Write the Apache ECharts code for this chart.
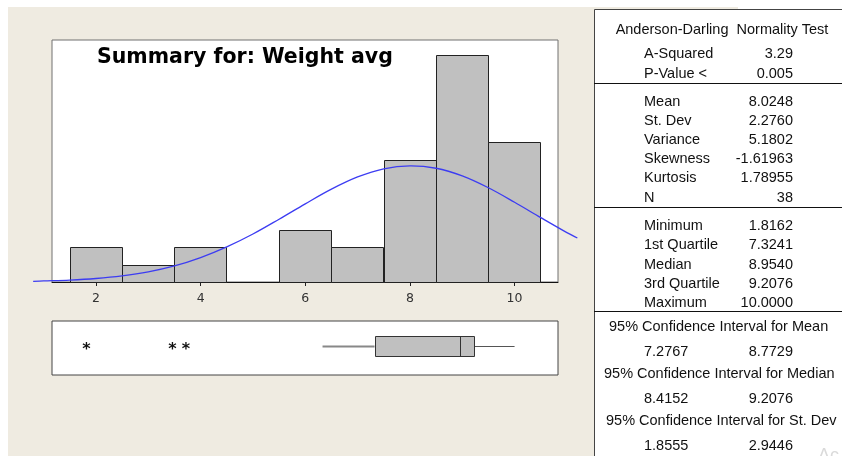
<!DOCTYPE html>
<html>
<head>
<meta charset="utf-8">
<script src="https://cdn.jsdelivr.net/npm/echarts@6/dist/echarts.min.js"></script>
<style>
  html, body { margin: 0; padding: 0; background: #ffffff; }
  #chart { width: 842px; height: 456px; }
</style>
</head>
<body>
<div id="chart"></div>
<script>
// Histogram bins (lower edge) and counts
const binStarts = [1.5, 2.5, 3.5, 4.5, 5.5, 6.5, 7.5, 8.5, 9.5]
const binCounts = [2, 1, 2, 0, 3, 2, 7, 13, 8]

// Fitted normal curve
const curveX = [0.8, 1, 1.5, 2, 2.5, 3, 3.5, 4, 4.5, 5, 5.5, 6, 6.5, 7, 7.5, 8, 8.5, 9, 9.5, 10, 10.5, 11, 11.2]
const curveY = [0.04, 0.06, 0.11, 0.2, 0.35, 0.58, 0.92, 1.4, 2.01, 2.75, 3.6, 4.48, 5.32, 6.02, 6.49, 6.66, 6.52, 6.08, 5.4, 4.57, 3.69, 2.83, 2.52]

// Boxplot: lower whisker, Q1, median, Q3, upper whisker; outliers
const boxStats = [6.33, 7.3241, 8.954, 9.2076, 10.0]
const outliers = [1.8162, 3.46, 3.72]

const xTicks = [2, 4, 6, 8, 10]

// Summary table
const titleText = 'Summary for: Weight avg'
const adLabels = ['A-Squared', 'P-Value <']
const adValues = ['3.29', '0.005']
const descLabels = ['Mean', 'St. Dev', 'Variance', 'Skewness', 'Kurtosis', 'N']
const descValues = ['8.0248', '2.2760', '5.1802', '-1.61963', '1.78955', '38']
const quartLabels = ['Minimum', '1st Quartile', 'Median', '3rd Quartile', 'Maximum']
const quartValues = ['1.8162', '7.3241', '8.9540', '9.2076', '10.0000']
const ciTitles = ['95% Confidence Interval for Mean', '95% Confidence Interval for Median', '95% Confidence Interval for St. Dev']
const ciLow = ['7.2767', '8.4152', '1.8555']
const ciHigh = ['8.7729', '9.2076', '2.9446']

const chart = echarts.init(document.getElementById('chart'))

const tableFont = 'Liberation Sans'
const fs = 14.5

function txt(text, x, y, align) {
  return {
    type: 'text',
    x: x,
    y: y,
    z: 5,
    style: {
      text: text,
      fill: '#111',
      fontSize: fs,
      fontFamily: tableFont,
      align: align,
      textAlign: align,
      verticalAlign: 'middle',
      textVerticalAlign: 'middle'
    }
  }
}

const graphics = [
  // beige backdrop
  { type: 'rect', z: -10, shape: { x: 8, y: 7, width: 730, height: 449 }, style: { fill: '#efebe1' } },
  // table panel
  { type: 'rect', z: -9, shape: { x: 594.5, y: 9.5, width: 260, height: 460 }, style: { fill: '#ffffff', stroke: '#444', lineWidth: 1 } },
  { type: 'line', z: -8, shape: { x1: 594, y1: 83.5, x2: 842, y2: 83.5 }, style: { stroke: '#111', lineWidth: 1 } },
  { type: 'line', z: -8, shape: { x1: 594, y1: 207.5, x2: 842, y2: 207.5 }, style: { stroke: '#111', lineWidth: 1 } },
  { type: 'line', z: -8, shape: { x1: 594, y1: 311.5, x2: 842, y2: 311.5 }, style: { stroke: '#111', lineWidth: 1 } },
  {
    type: 'text', x: 97, y: 58, z: 5,
    style: {
      text: titleText, fill: '#000', fontSize: 20.5, fontWeight: 'bold', fontFamily: 'DejaVu Sans',
      align: 'left', textAlign: 'left', verticalAlign: 'middle', textVerticalAlign: 'middle'
    }
  },
  txt('Anderson-Darling  Normality Test', 722, 30, 'center')
]

adLabels.forEach((l, i) => {
  graphics.push(txt(l, 644, 54 + i * 20, 'left'))
  graphics.push(txt(adValues[i], 793, 54 + i * 20, 'right'))
})
descLabels.forEach((l, i) => {
  graphics.push(txt(l, 644, 102 + i * 19.1, 'left'))
  graphics.push(txt(descValues[i], 793, 102 + i * 19.1, 'right'))
})
quartLabels.forEach((l, i) => {
  graphics.push(txt(l, 644, 226 + i * 19.3, 'left'))
  graphics.push(txt(quartValues[i], 793, 226 + i * 19.3, 'right'))
})
ciTitles.forEach((t, i) => {
  const y0 = 327 + i * 47.2
  graphics.push(txt(t, [609, 604, 606][i], y0, 'left'))
  graphics.push(txt(ciLow[i], 644, y0 + 24.5, 'left'))
  graphics.push(txt(ciHigh[i], 793, y0 + 24.5, 'right'))
})
graphics.push({
  type: 'text', x: 818, y: 456, z: 5,
  style: { text: 'Ac', fill: '#dadada', fontSize: 18, fontFamily: tableFont, align: 'left', verticalAlign: 'middle' }
})

const histData = binStarts
  .map((s, i) => [s, s + 1, binCounts[i]])
  .filter(d => d[2] > 0)

const option = {
  animation: false,
  backgroundColor: 'transparent',
  graphic: graphics,
  grid: [
    { left: 52, top: 40, width: 506, height: 242, show: true, backgroundColor: '#ffffff', borderColor: '#707070', borderWidth: 1 },
    { left: 52, top: 321, width: 506, height: 54, show: true, backgroundColor: '#ffffff', borderColor: '#444', borderWidth: 1 }
  ],
  xAxis: [
    {
      gridIndex: 0, type: 'value', min: 1.16, max: 10.83,
      splitLine: { show: false },
      axisLine: { show: true, onZero: false, lineStyle: { color: '#111', width: 1 } },
      axisTick: { show: true, length: 4, customValues: xTicks, lineStyle: { color: '#222' } },
      axisLabel: { show: true, customValues: xTicks, color: '#333', fontSize: 12.5, fontFamily: 'DejaVu Sans', margin: 10 }
    },
    {
      gridIndex: 1, type: 'value', min: 1.16, max: 10.83,
      show: false, splitLine: { show: false }
    }
  ],
  yAxis: [
    { gridIndex: 0, type: 'value', min: 0, max: 13.87, show: false, splitLine: { show: false } },
    { gridIndex: 1, type: 'value', min: 0, max: 1, show: false, splitLine: { show: false } }
  ],
  series: [
    {
      type: 'custom',
      xAxisIndex: 0, yAxisIndex: 0,
      data: histData,
      encode: { x: [0, 1], y: 2 },
      renderItem: function (params, api) {
        const p0 = api.coord([api.value(0), api.value(2)])
        const p1 = api.coord([api.value(1), 0])
        return {
          type: 'rect',
          shape: { x: Math.round(p0[0]) + 0.5, y: Math.round(p0[1]) + 0.5, width: Math.round(p1[0] - p0[0]), height: Math.round(p1[1] - p0[1]) },
          style: { fill: '#c0c0c0', stroke: '#222', lineWidth: 1 }
        }
      },
      z: 2
    },
    {
      // normal curve, allowed to run past the frame like the original
      type: 'custom',
      xAxisIndex: 0, yAxisIndex: 0,
      clip: false,
      data: curveX.map((x, i) => [x, curveY[i]]),
      renderItem: function (params, api) {
        if (params.dataIndex !== 0) return null
        const pts = curveX.map((x, i) => api.coord([x, curveY[i]]))
        return {
          type: 'polyline',
          shape: { points: pts, smooth: 0.35 },
          style: { stroke: '#3c3cf2', lineWidth: 1.3, fill: null }
        }
      },
      z: 3
    },
    {
      type: 'custom',
      xAxisIndex: 1, yAxisIndex: 1,
      data: [boxStats],
      renderItem: function (params, api) {
        const lo = api.coord([api.value(0), 0.5])
        const q1 = api.coord([api.value(1), 0.5])
        const med = api.coord([api.value(2), 0.5])
        const q3 = api.coord([api.value(3), 0.5])
        const hi = api.coord([api.value(4), 0.5])
        const cy = Math.round(lo[1]) - 1.5
        const h = 10
        return {
          type: 'group',
          children: [
            { type: 'line', shape: { x1: lo[0], y1: cy, x2: q1[0], y2: cy }, style: { stroke: '#888', lineWidth: 2 } },
            { type: 'line', shape: { x1: q3[0], y1: cy, x2: hi[0], y2: cy }, style: { stroke: '#555', lineWidth: 1.2 } },
            { type: 'rect', shape: { x: Math.round(q1[0]) + 0.5, y: cy - h, width: Math.round(q3[0] - q1[0]), height: 2 * h }, style: { fill: '#c0c0c0', stroke: '#333', lineWidth: 1 } },
            { type: 'line', shape: { x1: Math.round(med[0]) + 0.5, y1: cy - h, x2: Math.round(med[0]) + 0.5, y2: cy + h }, style: { stroke: '#333', lineWidth: 1 } }
          ]
        }
      }
    },
    {
      type: 'custom',
      xAxisIndex: 1, yAxisIndex: 1,
      data: outliers.map(v => [v, 0.5]),
      renderItem: function (params, api) {
        const p = api.coord([api.value(0), api.value(1)])
        return {
          type: 'text',
          x: p[0], y: p[1] + 2,
          style: { text: '*', fill: '#111', fontSize: 16, fontWeight: 'bold', fontFamily: 'DejaVu Sans', align: 'center', verticalAlign: 'middle' }
        }
      }
    }
  ]
}

chart.setOption(option)
</script>
</body>
</html>
